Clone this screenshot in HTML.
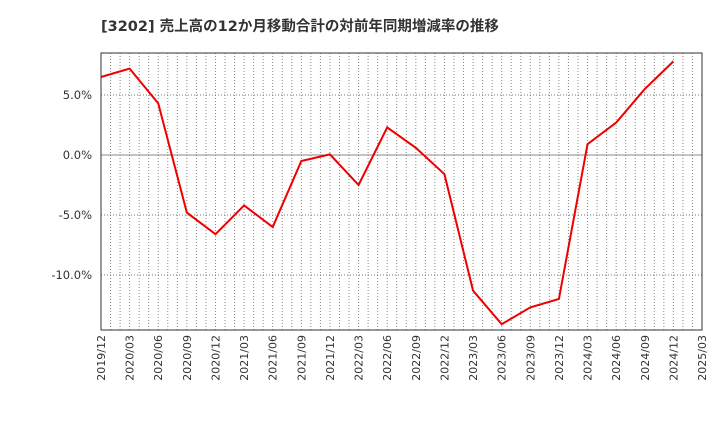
<!DOCTYPE html>
<html><head><meta charset="utf-8"><style>
body{margin:0;background:#fff;font-family:"DejaVu Sans","Noto Sans CJK JP",sans-serif;}
svg text{font-family:"DejaVu Sans","Noto Sans CJK JP",sans-serif;}
</style></head><body>
<svg id="chart" width="720" height="440" xmlns="http://www.w3.org/2000/svg">
<text x="101" y="31" font-size="14.5" font-weight="bold" fill="#333">[3202]  売上高の12か月移動合計の対前年同期増減率の推移</text>
<g id="grid"></g>
<g id="axes"></g>
<polyline id="line" fill="none" stroke="#ee0000" stroke-width="2"/>
<rect x="101" y="53" width="601" height="277" fill="none" stroke="#333" stroke-width="1"/>
</svg>
<script>
const categories=["2019/12","2020/03","2020/06","2020/09","2020/12","2021/03","2021/06","2021/09","2021/12","2022/03","2022/06","2022/09","2022/12","2023/03","2023/06","2023/09","2023/12","2024/03","2024/06","2024/09","2024/12"];
const values=[6.5,7.2,4.3,-4.8,-6.6,-4.2,-6.0,-0.5,0.05,-2.5,2.3,0.6,-1.6,-11.3,-14.1,-12.7,-12.0,0.9,2.7,5.5,7.8];
const xTickLabels=["2019/12","2020/03","2020/06","2020/09","2020/12","2021/03","2021/06","2021/09","2021/12","2022/03","2022/06","2022/09","2022/12","2023/03","2023/06","2023/09","2023/12","2024/03","2024/06","2024/09","2024/12","2025/03"];
const yTicks=[5,0,-5,-10];
const yTickLabels=["5.0%","0.0%","-5.0%","-10.0%"];
const NS="http://www.w3.org/2000/svg";
const L=101,R=702,T=53,B=330,yMax=8.5,yMin=-14.583;
const nQ=xTickLabels.length-1;
const x=i=>L+(R-L)*i/nQ;
const y=v=>T+(B-T)*(yMax-v)/(yMax-yMin);
const grid=document.getElementById('grid'),axes=document.getElementById('axes');
function mk(tag,attrs,parent){const e=document.createElementNS(NS,tag);for(const k in attrs)e.setAttribute(k,attrs[k]);parent.appendChild(e);return e;}
for(let m=1;m<nQ*3;m++){const xx=L+(R-L)*m/(nQ*3);
 const g=mk('line',{x1:xx,x2:xx,y1:T,y2:B,stroke:'#888','stroke-width':1,'stroke-dasharray':'1,2'},grid);
 
 }
yTicks.forEach((v,i)=>{const yy=y(v);
 const g=mk('line',{x1:L,x2:R,y1:yy,y2:yy,stroke:v===0?'#888':'#777','stroke-width':1,'stroke-dasharray':v===0?'':'1,2'},grid);
 
 
 const t=mk('text',{x:L-9,y:yy+4,'font-size':11.5,'text-anchor':'end',fill:'#333'},axes);t.textContent=yTickLabels[i];
 
 });
xTickLabels.forEach((s,i)=>{const xx=x(i);
 const t=mk('text',{transform:`translate(${xx+4},${B+5}) rotate(-90)`,'font-size':11,'text-anchor':'end',fill:'#333'},axes);t.textContent=s;
 
 });
document.getElementById('line').setAttribute('points',values.map((v,i)=>x(i)+','+y(v)).join(' '));
</script>
</body></html>
